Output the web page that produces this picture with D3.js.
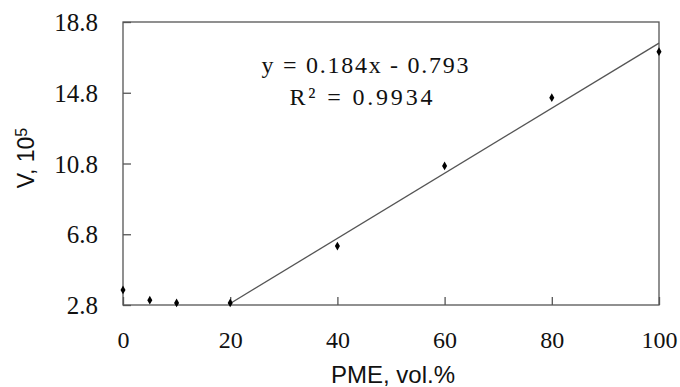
<!DOCTYPE html>
<html><head><meta charset="utf-8">
<script src="https://cdn.jsdelivr.net/npm/d3@7"></script>
<style>body{margin:0;background:#fff}svg{display:block}</style>
</head><body>
<svg id="c" width="680" height="387"></svg>
<script>
const pme = [0, 5, 10, 20, 40, 60, 80, 100];
const vVals = [3.65, 3.07, 2.92, 2.92, 6.13, 10.66, 14.52, 17.12];
const xTicks = [0, 20, 40, 60, 80, 100];
const yTicks = [2.8, 6.8, 10.8, 14.8, 18.8];
const trendSlope = 0.184, trendIntercept = -0.793;
const trendRange = [20, 100];
const eqLines = ["y = 0.184x - 0.793", "R² = 0.9934"];

const SERIF = "Liberation Serif";
const SANS = "Liberation Sans";
const svg = d3.select("#c");
const L = 123, R = 659, T = 22, B = 305;
const x = d3.scaleLinear().domain([0, 100]).range([L, R]);
const y = d3.scaleLinear().domain([2.8, 18.8]).range([B, T]);
const frame = "#555";

svg.append("rect").attr("x", L).attr("y", T).attr("width", R - L).attr("height", B - T)
  .attr("fill", "none").attr("stroke", frame).attr("stroke-width", 1.3);

const xa = svg.append("g").attr("transform", `translate(0,${B})`)
  .call(d3.axisBottom(x).tickValues(xTicks).tickFormat(d3.format("d")).tickSizeInner(-8).tickSizeOuter(0).tickPadding(25));
const ya = svg.append("g").attr("transform", `translate(${L},0)`)
  .call(d3.axisLeft(y).tickValues(yTicks).tickFormat(d3.format(".1f")).tickSizeInner(-8).tickSizeOuter(0).tickPadding(25));
[xa, ya].forEach(g => {
  g.attr("font-family", SERIF).attr("font-size", 24);
  g.select(".domain").remove();
  g.selectAll(".tick line").attr("stroke", frame).attr("stroke-width", 1.3);
  g.selectAll("text").attr("fill", "#111").attr("font-family", SERIF);
});
xa.selectAll("text").attr("font-size", 24).attr("y", 26).attr("dy", "0.71em");
ya.selectAll("text").attr("font-size", 25).attr("x", -25).attr("dy", "0.34em");

svg.append("line")
  .attr("x1", x(trendRange[0])).attr("y1", y(trendSlope * trendRange[0] + trendIntercept))
  .attr("x2", x(trendRange[1])).attr("y2", y(trendSlope * trendRange[1] + trendIntercept))
  .attr("stroke", "#555").attr("stroke-width", 1.3);

svg.append("g").selectAll("path").data(pme).join("path")
  .attr("d", d3.symbol(d3.symbolDiamond, 22))
  .attr("transform", (d, i) => `translate(${x(d)},${y(vVals[i])})`)
  .attr("fill", "#000");

const eq = svg.append("g").attr("font-family", SERIF).attr("font-size", 24).attr("fill", "#111");
eq.append("text").attr("x", 365).attr("y", 73).attr("text-anchor", "middle")
  .attr("textLength", 207).attr("lengthAdjust", "spacing").text(eqLines[0]);
eq.append("text").attr("x", 361).attr("y", 105).attr("text-anchor", "middle")
  .attr("textLength", 143).attr("lengthAdjust", "spacing").text(eqLines[1]);

svg.append("text").attr("x", 393).attr("y", 383).attr("text-anchor", "middle")
  .attr("font-family", SANS).attr("font-size", 24).attr("fill", "#111").text("PME, vol.%");
const yl = svg.append("text").attr("transform", "translate(34,158) rotate(-90)")
  .attr("text-anchor", "middle").attr("font-family", SANS).attr("font-size", 23).attr("fill", "#111");
yl.append("tspan").text("V, 10");
yl.append("tspan").attr("dy", "-0.45em").attr("font-size", 16).text("5");
</script>
</body></html>
